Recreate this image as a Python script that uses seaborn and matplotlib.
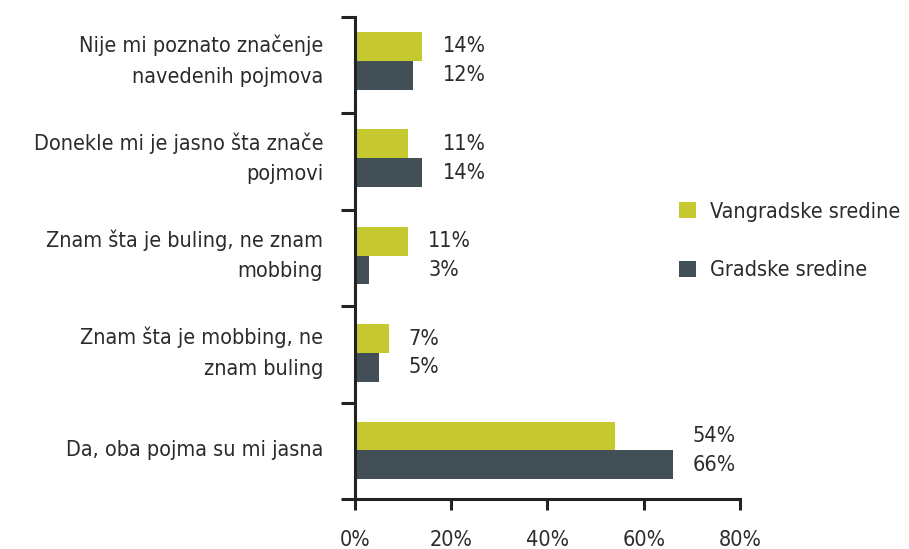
import matplotlib
matplotlib.use("Agg")
import matplotlib.pyplot as plt
import seaborn as sns
import numpy as np
import pandas as pd
from matplotlib.ticker import FixedLocator, FuncFormatter

categories = [
    "Nije mi poznato značenje\nnavedenih pojmova",
    "Donekle mi je jasno šta znače\npojmovi",
    "Znam šta je buling, ne znam\nmobbing",
    "Znam šta je mobbing, ne\nznam buling",
    "Da, oba pojma su mi jasna",
]
series = ["Vangradske sredine", "Gradske sredine"]
vangradske = [14, 11, 11, 7, 54]
gradske = [12, 14, 3, 5, 66]
x_ticks = [0, 20, 40, 60, 80]
colors = ["#C5C82E", "#424F57"]

df = pd.DataFrame({
    "kategorija": categories * 2,
    "sredina": [series[0]] * len(categories) + [series[1]] * len(categories),
    "udio": vangradske + gradske,
})

sns.set_theme(style="white")
plt.rcParams["font.family"] = ["DejaVu Sans"]
plt.rcParams["font.stretch"] = "condensed"

FS = 15.5
TXT = "#2b2b2b"
AXC = "#222222"

fig = plt.figure(figsize=(9.09, 5.49), dpi=100)
ax = fig.add_axes([0.3905, 0.0911, 0.4235, 0.878])

sns.barplot(data=df, y="kategorija", x="udio", hue="sredina", order=categories,
            hue_order=series, palette=colors, orient="h", width=0.59,
            saturation=1, linewidth=0, ax=ax, legend=True)

y_top, y_bottom = -0.45, len(categories) - 0.5
ax.set_xlim(0, 80)
ax.set_ylim(y_bottom, y_top)
ax.set_xlabel("")
ax.set_ylabel("")

# value labels beside each pair of bars
for ci, cont in enumerate(ax.containers):
    vals = vangradske if ci == 0 else gradske
    for i, bar in enumerate(cont):
        x = max(vangradske[i], gradske[i]) + 4.2
        y = bar.get_y() + bar.get_height() / 2
        ax.text(x, y, f"{vals[i]}%", ha="left", va="center", fontsize=FS,
                color=TXT)

# spines
for s in ["top", "right"]:
    ax.spines[s].set_visible(False)
for s in ["left", "bottom"]:
    ax.spines[s].set_color(AXC)
    ax.spines[s].set_linewidth(2.2)

# x axis
ax.xaxis.set_major_locator(FixedLocator(x_ticks))
ax.xaxis.set_major_formatter(FuncFormatter(lambda v, p: f"{v:.0f}%"))
ax.tick_params(axis="x", which="major", bottom=True, length=8, width=2.2,
               color=AXC, pad=14, labelsize=FS, labelcolor=TXT)

# y axis: labels at category centres, separator ticks between groups
ax.tick_params(axis="y", which="major", left=False, length=0, pad=23,
               labelsize=FS, labelcolor=TXT)
ax.yaxis.set_minor_locator(FixedLocator(np.linspace(y_top, y_bottom, len(categories) + 1)))
ax.tick_params(axis="y", which="minor", left=True, length=10, width=2.2,
               color=AXC)
for lbl in ax.get_yticklabels():
    lbl.set_linespacing(1.65)
    lbl.set_ha("right")
    lbl.set_va("center")

ax.legend(loc="center left", bbox_to_anchor=(0.82, 0.535), frameon=False,
          fontsize=FS, handlelength=0.8, handleheight=0.8, labelspacing=1.8,
          handletextpad=0.65, borderaxespad=0.0, labelcolor=TXT)

fig.savefig("out.png", dpi=100)
